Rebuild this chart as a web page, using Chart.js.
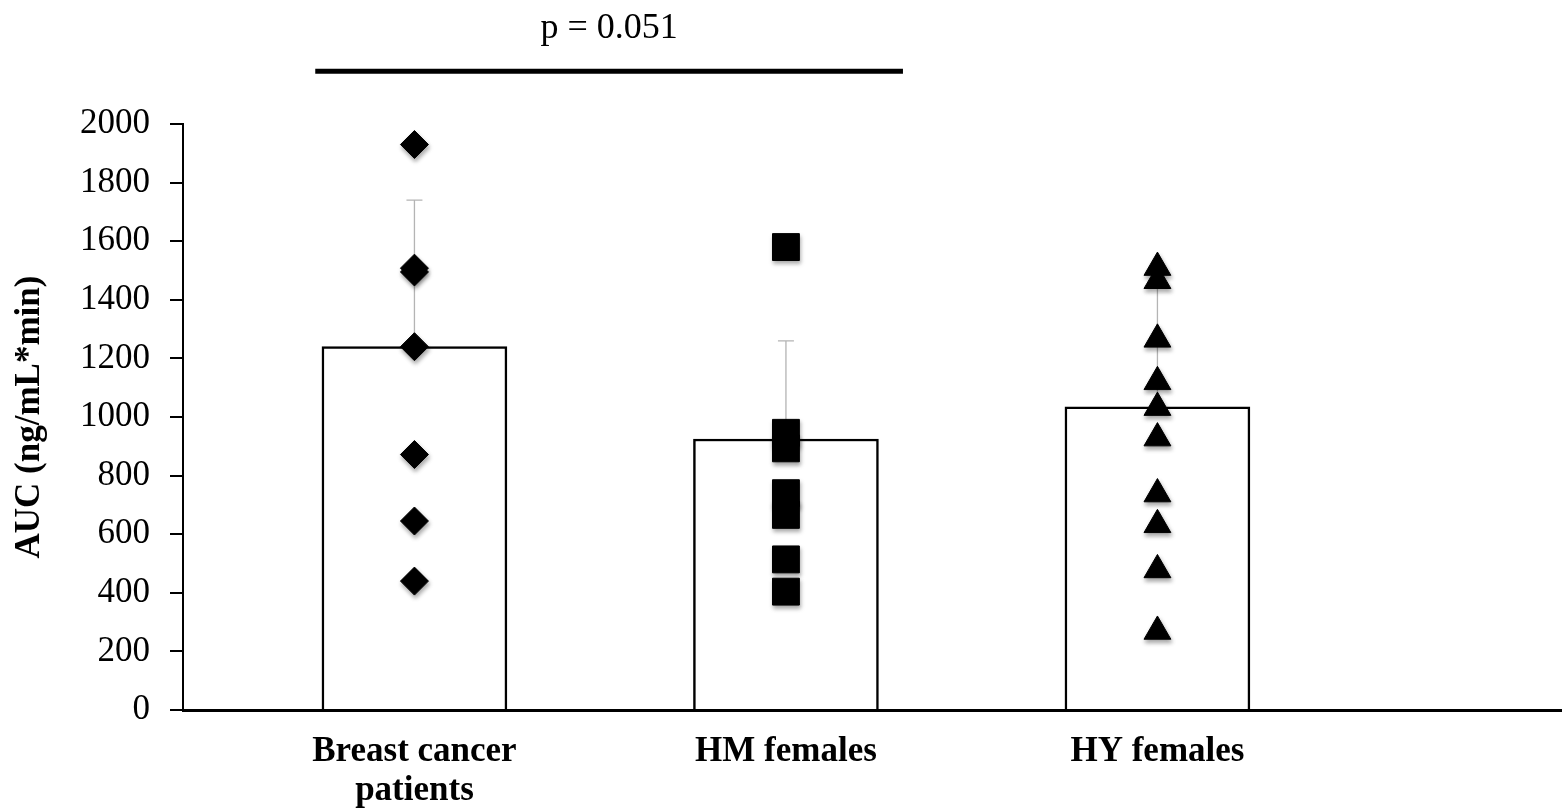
<!DOCTYPE html>
<html lang="en">
<head>
    <meta charset="UTF-8">
    <title>AUC by group</title>
    <style>
        html, body { margin: 0; padding: 0; background: #fff; overflow: hidden; }
        #auc { display: block; }
    </style>
</head>
<body>
<canvas id="auc" width="1562" height="812"></canvas>

<script src="https://cdn.jsdelivr.net/npm/chart.js@4.4.1/dist/chart.umd.min.js"></script>
<script>
// groups and their tick labels
const groups = ["Breast cancer patients", "HM females", "HY females"];
const groupLabels = [["Breast cancer", "patients"], "HM females", "HY females"];

// mean AUC and SD (upper error bar only)
const meanAUC = [1240, 925, 1035];
const sdAUC = [500, 335, 420];

// individual subjects
const breastCancer = [1930, 1508, 1495, 1240, 872, 645, 440];
const hmFemales = [1580, 946, 893, 740, 666, 514, 404];
const hyFemales = [1510, 1465, 1265, 1120, 1032, 928, 737, 632, 478, 268];

// comparison bracket between group 1 and group 2
const sigText = "p = 0.051";
const sigFrom = 0.733, sigTo = 2.315, sigLevel = 2180, sigTextLevel = 2325;

const serif = "'Liberation Serif', 'Times New Roman', serif";

const toPoints = (vals, i) => vals.map(v => ({ x: i + 1, y: v }));

const extras = {
    id: "extras",
    beforeDatasetDraw(chart, args) {
        if (chart.data.datasets[args.index].type === "scatter") {
            const ctx = chart.ctx;
            ctx.save();
            ctx.shadowColor = "rgba(0,0,0,0.35)";
            ctx.shadowBlur = 4;
            ctx.shadowOffsetX = 1;
            ctx.shadowOffsetY = 3;
        }
    },
    afterDatasetDraw(chart, args) {
        const ctx = chart.ctx;
        if (chart.data.datasets[args.index].type === "scatter") {
            ctx.restore();
            return;
        }
        // error bars above the columns
        const xs = chart.scales.x, ys = chart.scales.y;
        ctx.save();
        ctx.strokeStyle = "#b4b4b4";
        ctx.lineWidth = 1.3;
        meanAUC.forEach((m, i) => {
            const px = xs.getPixelForValue(i + 1);
            const top = ys.getPixelForValue(m + sdAUC[i]);
            ctx.beginPath();
            ctx.moveTo(px, ys.getPixelForValue(m));
            ctx.lineTo(px, top);
            ctx.moveTo(px - 8, top);
            ctx.lineTo(px + 8, top);
            ctx.stroke();
        });
        ctx.restore();
    },
    afterDraw(chart) {
        const ctx = chart.ctx;
        const xs = chart.scales.x, ys = chart.scales.y;
        ctx.save();
        ctx.strokeStyle = "#000";
        ctx.lineWidth = 5;
        const y = ys.getPixelForValue(sigLevel);
        ctx.beginPath();
        ctx.moveTo(xs.getPixelForValue(sigFrom), y);
        ctx.lineTo(xs.getPixelForValue(sigTo), y);
        ctx.stroke();
        ctx.fillStyle = "#000";
        ctx.font = "36px " + serif;
        ctx.textAlign = "center";
        ctx.textBaseline = "middle";
        ctx.fillText(sigText, (xs.getPixelForValue(sigFrom) + xs.getPixelForValue(sigTo)) / 2,
            ys.getPixelForValue(sigTextLevel));
        ctx.restore();
    }
};

new Chart(document.getElementById("auc"), {
    type: "bar",
    data: {
        datasets: [
            {
                type: "bar",
                label: "Mean",
                data: meanAUC.map((m, i) => ({ x: i + 1, y: m })),
                backgroundColor: "#fff",
                borderColor: "#000",
                borderWidth: 2.5,
                barThickness: 185,
                order: 10
            },
            {
                type: "scatter",
                label: groups[0],
                data: toPoints(breastCancer, 0),
                pointStyle: "rectRot",
                pointRadius: 14,
                backgroundColor: "#000",
                borderColor: "#000",
                order: 1
            },
            {
                type: "scatter",
                label: groups[1],
                data: toPoints(hmFemales, 1),
                pointStyle: "rect",
                pointRadius: 19,
                backgroundColor: "#000",
                borderColor: "#000",
                order: 1
            },
            {
                type: "scatter",
                label: groups[2],
                data: toPoints(hyFemales, 2),
                pointStyle: "triangle",
                pointRadius: 15.5,
                backgroundColor: "#000",
                borderColor: "#000",
                order: 1
            }
        ]
    },
    options: {
        responsive: false,
        animation: false,
        layout: { autoPadding: false, padding: { top: 124, right: 0, left: 0, bottom: 0 } },
        plugins: {
            legend: { display: false },
            tooltip: { enabled: false }
        },
        scales: {
            x: {
                type: "linear",
                offset: false,
                min: 0.377,
                max: 4.089,
                afterBuildTicks: axis => {
                    axis.ticks = groups.map((g, i) => ({ value: i + 1 }));
                },
                afterFit: scale => {
                    scale.height = 102;
                    scale.paddingLeft = 0;
                    scale.paddingRight = 0;
                },
                grid: { display: false },
                border: { display: true, color: "#000", width: 3 },
                ticks: {
                    color: "#000",
                    padding: 14,
                    maxRotation: 0,
                    autoSkip: false,
                    font: { family: serif, size: 35, weight: "bold", lineHeight: 1.12 },
                    callback: (v) => groupLabels[Math.round(v) - 1]
                }
            },
            y: {
                min: 0,
                max: 2000,
                afterFit: scale => { scale.width = 183; },
                grid: {
                    drawOnChartArea: false,
                    drawTicks: true,
                    tickLength: 13,
                    color: "#000",
                    lineWidth: 2
                },
                border: { display: true, color: "#000", width: 2 },
                ticks: {
                    stepSize: 200,
                    color: "#000",
                    padding: 20,
                    font: { family: serif, size: 35 },
                    callback: v => String(v)
                },
                title: {
                    display: true,
                    text: "AUC (ng/mL*min)",
                    color: "#000",
                    padding: { top: 9, bottom: 0 },
                    font: { family: serif, size: 35, weight: "bold" }
                }
            }
        }
    },
    plugins: [extras]
});
</script>
</body>
</html>
